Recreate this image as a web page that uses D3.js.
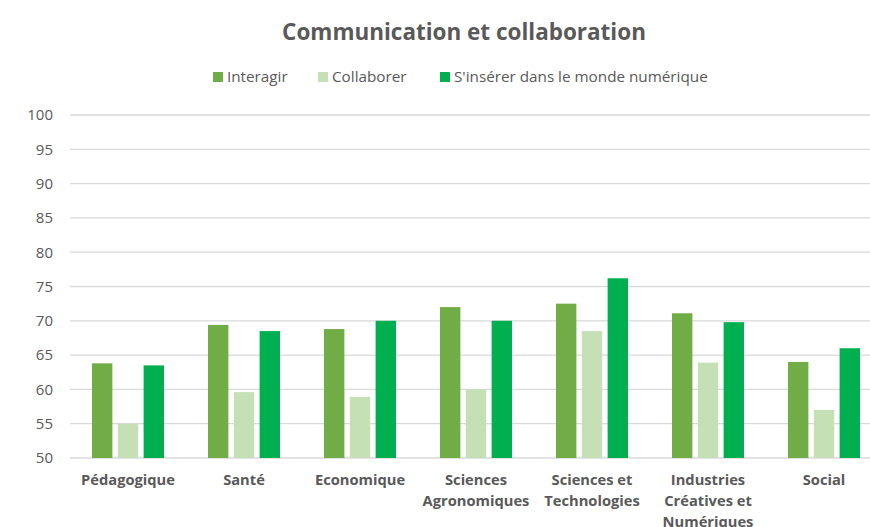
<!DOCTYPE html>
<html><head><meta charset="utf-8">
<script src="https://cdn.jsdelivr.net/npm/d3@7"></script>
<style>body{margin:0;background:#fff}svg{display:block}</style>
</head><body>
<svg id="c" width="870" height="527"></svg>
<script>
const categories = [["Pédagogique"],["Santé"],["Economique"],["Sciences","Agronomiques"],["Sciences et","Technologies"],["Industries","Créatives et","Numériques"],["Social"]];
const seriesNames = ["Interagir","Collaborer","S'insérer dans le monde numérique"];
const interagir = [63.8,69.4,68.8,72.0,72.5,71.1,64.0];
const collaborer = [55.0,59.6,58.9,60.0,68.5,63.9,57.0];
const inserer = [63.5,68.5,70.0,70.0,76.2,69.8,66.0];
const yTicks = [50,55,60,65,70,75,80,85,90,95,100];
const colors = ["#70AD47","#C5E0B4","#00B050"];
const series = [interagir, collaborer, inserer];

const svg = d3.select("#c");
const font = "'Open Sans', sans-serif";
const grey = "#595959";

function fit(sel, base, target){
  sel.attr("font-size", base);
  const w = sel.node().getComputedTextLength();
  sel.attr("font-size", base*target/w);
  return base*target/w;
}

const x = d3.scaleBand().domain(d3.range(categories.length)).range([70, 882]);
const y = d3.scaleLinear().domain([50,100]).range([458,115]);
const xs = d3.scaleBand().domain(d3.range(3)).range([22, x.bandwidth()-22]).paddingInner(0.21).paddingOuter(0);

// gridlines
svg.append("g").selectAll("line").data(yTicks).join("line")
  .attr("x1",70).attr("x2",870).attr("y1",d=>y(d)).attr("y2",d=>y(d))
  .attr("stroke","#D9D9D9").attr("stroke-width",1.3);

// y axis labels
const yAxis = d3.axisLeft(y).tickValues(yTicks).tickSize(0).tickPadding(0);
const ya = svg.append("g").attr("transform","translate(53,0)").call(yAxis);
ya.select(".domain").remove();
ya.selectAll("text").attr("font-family",font).attr("font-size",15).attr("fill",grey);

// bars
categories.forEach((c,i)=>{
  const g = svg.append("g").attr("transform",`translate(${x(i)},0)`);
  g.selectAll("rect").data(series.map((s,k)=>({k,v:s[i]}))).join("rect")
    .attr("x",d=>xs(d.k)).attr("width",xs.bandwidth())
    .attr("y",d=>y(d.v)).attr("height",d=>y(50)-y(d.v))
    .attr("fill",d=>colors[d.k]);
});

// category labels
const probe = svg.append("text").attr("font-family",font).attr("font-weight","bold").text("Pédagogique");
const catSize = fit(probe, 15, 94);
probe.remove();
categories.forEach((lines,i)=>{
  const cx = x(i)+x.bandwidth()/2;
  const t = svg.append("text").attr("x",cx).attr("y",485)
    .attr("text-anchor","middle").attr("font-family",font).attr("font-weight","bold")
    .attr("font-size",catSize).attr("fill",grey);
  lines.forEach((l,j)=>t.append("tspan").attr("x",cx).attr("dy",j?21:0).text(l));
});

// title
const title = svg.append("text").attr("x",464).attr("y",39.5).attr("text-anchor","middle")
  .attr("font-family",font).attr("font-weight","bold").attr("fill",grey)
  .text("Communication et collaboration");
fit(title, 22, 364);

// legend
const legendX = [213, 318, 440];
const lg = svg.append("g");
const lp = svg.append("text").attr("font-family",font).text(seriesNames[2]);
const legSize = fit(lp, 14, 254);
lp.remove();
seriesNames.forEach((n,k)=>{
  lg.append("rect").attr("x",legendX[k]).attr("y",72).attr("width",10).attr("height",10).attr("fill",colors[k]);
  lg.append("text").attr("x",legendX[k]+14).attr("y",82).attr("font-family",font).attr("font-size",legSize)
    .attr("fill",grey).text(n);
});
</script>
</body></html>
